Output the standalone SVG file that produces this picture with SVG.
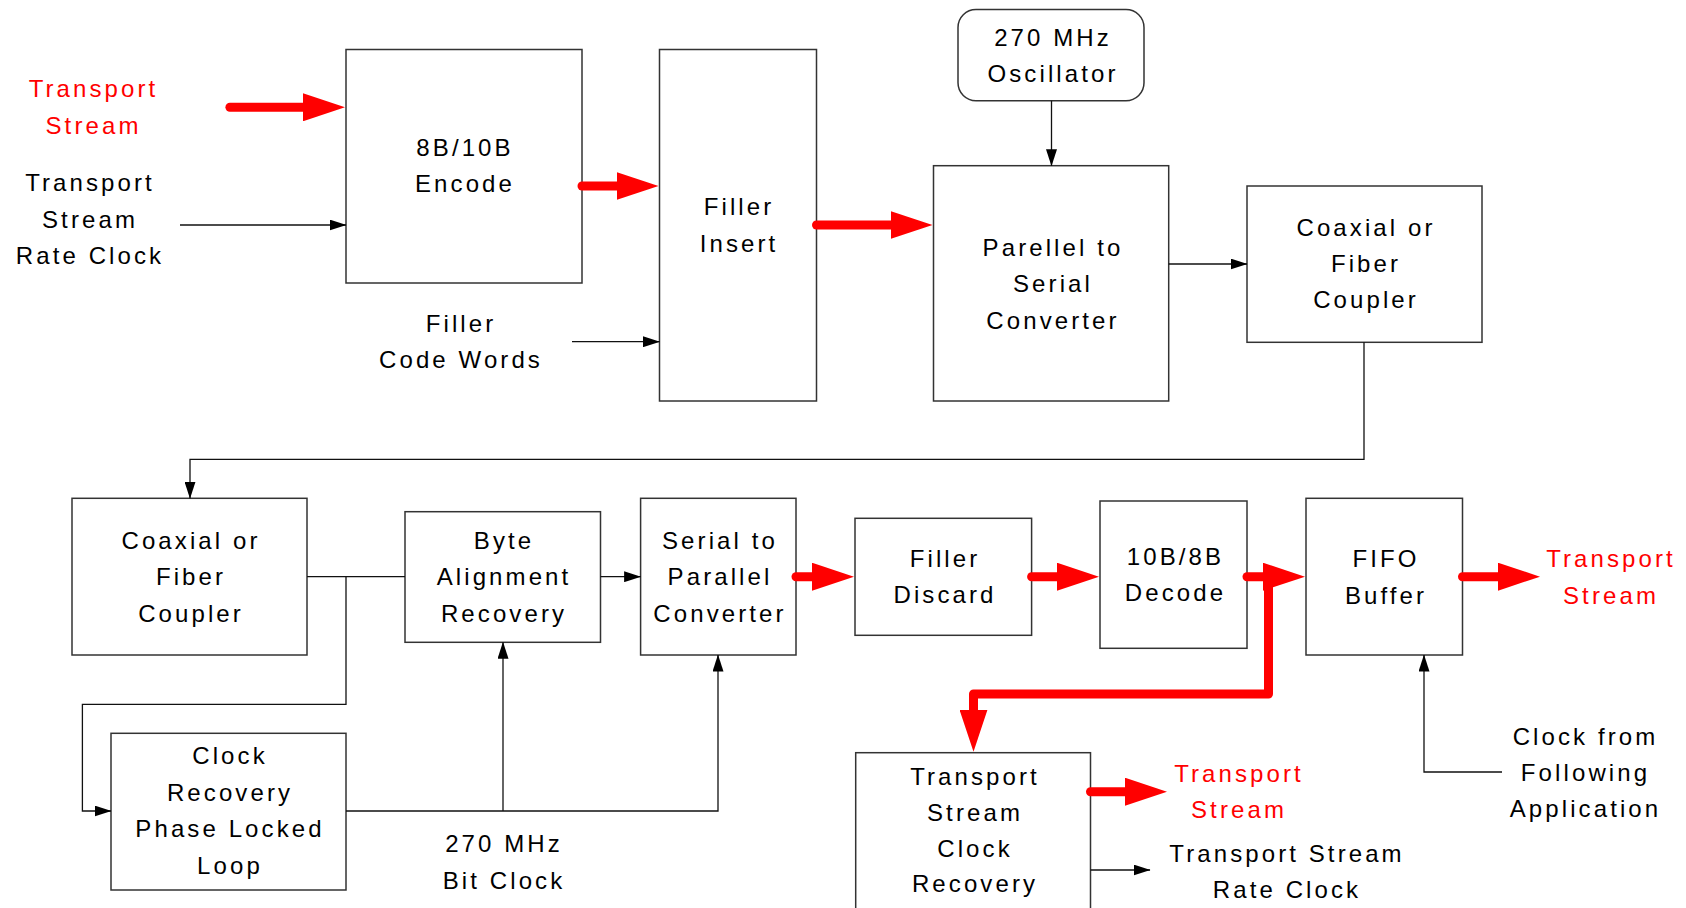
<svg xmlns="http://www.w3.org/2000/svg" width="1686" height="908" viewBox="0 0 1686 908">
<style>
.box{fill:#fff;stroke:#333;stroke-width:1.5}
.t{font-family:"Liberation Sans",Arial,sans-serif;font-size:24px;letter-spacing:3.1px;text-anchor:middle;fill:#000}
.r{fill:#ff0000}
.ln{fill:none;stroke:#111;stroke-width:1.3}
.rl{fill:none;stroke:#ff0000;stroke-width:9;stroke-linecap:round;stroke-linejoin:round}
</style>
<defs>
<marker id="ba" markerUnits="userSpaceOnUse" markerWidth="17" markerHeight="11" viewBox="0 0 17 11" refX="16.5" refY="5.5" orient="auto"><path d="M0,0 L17,5.5 L0,11z" fill="#000"/></marker>
<marker id="ra" markerUnits="userSpaceOnUse" markerWidth="42" markerHeight="28" viewBox="0 0 42 28" refX="1" refY="14" orient="auto"><path d="M0,0 L42,14 L0,28z" fill="#ff0000"/></marker>
</defs>
<rect width="1686" height="908" fill="#fff"/>

<g id="encode"><rect class="box" x="346" y="49.5" width="236" height="233.5"/>
<text class="t" x="465" y="156">8B/10B</text><text class="t" x="465" y="192">Encode</text></g>

<g id="filler-insert"><rect class="box" x="659.5" y="49.5" width="157" height="351.5"/>
<text class="t" x="739" y="215">Filler</text><text class="t" x="739" y="251.7">Insert</text></g>

<g id="oscillator"><rect class="box" x="958" y="9.5" width="186" height="91.2" rx="18"/>
<text class="t" x="1053" y="45.7">270 MHz</text><text class="t" x="1053" y="81.7">Oscillator</text></g>

<g id="p2s"><rect class="box" x="933.5" y="165.7" width="235.2" height="235.3"/>
<text class="t" x="1053" y="255.7">Parellel to</text><text class="t" x="1053" y="292.3">Serial</text><text class="t" x="1053" y="329">Converter</text></g>

<g id="coax-tx"><rect class="box" x="1247" y="186" width="235" height="156.3"/>
<text class="t" x="1366" y="235.7">Coaxial or</text><text class="t" x="1366" y="271.7">Fiber</text><text class="t" x="1366" y="308.3">Coupler</text></g>

<g id="coax-rx"><rect class="box" x="72" y="498.3" width="235" height="156.7"/>
<text class="t" x="191" y="549">Coaxial or</text><text class="t" x="191" y="584.7">Fiber</text><text class="t" x="191" y="621.7">Coupler</text></g>

<g id="byte-align"><rect class="box" x="405" y="511.7" width="195.5" height="130.6"/>
<text class="t" x="504" y="549">Byte</text><text class="t" x="504" y="584.7">Alignment</text><text class="t" x="504" y="621.7">Recovery</text></g>

<g id="s2p"><rect class="box" x="640.6" y="498.3" width="155.4" height="156.7"/>
<text class="t" x="720" y="549">Serial to</text><text class="t" x="720" y="584.7">Parallel</text><text class="t" x="720" y="621.7">Converter</text></g>

<g id="pll"><rect class="box" x="111" y="733.3" width="235" height="156.7"/>
<text class="t" x="230" y="764">Clock</text><text class="t" x="230" y="800.7">Recovery</text><text class="t" x="230" y="837.3">Phase Locked</text><text class="t" x="230" y="874">Loop</text></g>

<g id="filler-discard"><rect class="box" x="855" y="518.3" width="176.6" height="117"/>
<text class="t" x="945" y="566.7">Filler</text><text class="t" x="945" y="603.3">Discard</text></g>

<g id="decode"><rect class="box" x="1100" y="501" width="147" height="147.3"/>
<text class="t" x="1175.5" y="565">10B/8B</text><text class="t" x="1175.5" y="601.3">Decode</text></g>

<g id="fifo"><rect class="box" x="1306" y="498.3" width="156.5" height="156.7"/>
<text class="t" x="1386" y="567.3">FIFO</text><text class="t" x="1386" y="604">Buffer</text></g>

<g id="tscr"><rect class="box" x="855.7" y="752.7" width="234.8" height="180"/>
<text class="t" x="975" y="785">Transport</text><text class="t" x="975" y="821">Stream</text><text class="t" x="975" y="857">Clock</text><text class="t" x="975" y="892">Recovery</text></g>

<g id="labels">
<text class="t r" x="93.5" y="97">Transport</text><text class="t r" x="93.5" y="134">Stream</text>
<text class="t" x="90" y="191">Transport</text><text class="t" x="90" y="228">Stream</text><text class="t" x="90" y="264">Rate Clock</text>
<text class="t" x="461" y="332">Filler</text><text class="t" x="461" y="368">Code Words</text>
<text class="t" x="504" y="852.3">270 MHz</text><text class="t" x="504" y="889">Bit Clock</text>
<text class="t r" x="1611" y="567">Transport</text><text class="t r" x="1611" y="604">Stream</text>
<text class="t r" x="1239" y="782.3">Transport</text><text class="t r" x="1239" y="818.3">Stream</text>
<text class="t" x="1287" y="862.3">Transport Stream</text><text class="t" x="1287" y="898.3">Rate Clock</text>
<text class="t" x="1585.5" y="744.7">Clock from</text><text class="t" x="1585.5" y="780.7">Following</text><text class="t" x="1585.5" y="816.7">Application</text>
</g>

<g id="connectors">
<path class="ln" marker-end="url(#ba)" d="M180,225 H346"/>
<path class="ln" marker-end="url(#ba)" d="M572,341.7 H659.5"/>
<path class="ln" marker-end="url(#ba)" d="M1051.5,100.7 V165.7"/>
<path class="ln" marker-end="url(#ba)" d="M1168.7,264 H1247"/>
<path class="ln" marker-end="url(#ba)" d="M1364,342.3 V459.3 H190 V498.3"/>
<path class="ln" d="M307,576.7 H405"/>
<path class="ln" marker-end="url(#ba)" d="M346,576.7 V704.3 H82.4 V811 H111"/>
<path class="ln" marker-end="url(#ba)" d="M600.5,576.7 H640.6"/>
<path class="ln" marker-end="url(#ba)" d="M346,811 H718 V655"/>
<path class="ln" marker-end="url(#ba)" d="M503,811 V642.3"/>
<path class="ln" marker-end="url(#ba)" d="M1502,772 H1424 V655"/>
<path class="ln" marker-end="url(#ba)" d="M1090.5,870 H1150"/>
<path class="rl" marker-end="url(#ra)" d="M229.9,107.3 H304"/>
<path class="rl" marker-end="url(#ra)" d="M582,186 H617.5"/>
<path class="rl" marker-end="url(#ra)" d="M816.5,225 H891.5"/>
<path class="rl" marker-end="url(#ra)" d="M796,576.7 H813"/>
<path class="rl" marker-end="url(#ra)" d="M1031.6,576.7 H1058"/>
<path class="rl" marker-end="url(#ra)" d="M1268.5,576.7 V694 H973.5 V710.7"/>
<path class="rl" marker-end="url(#ra)" d="M1247,576.7 H1264"/>
<path class="rl" marker-end="url(#ra)" d="M1462.5,576.7 H1499"/>
<path class="rl" marker-end="url(#ra)" d="M1090.5,791.7 H1126"/>
</g>
</svg>
